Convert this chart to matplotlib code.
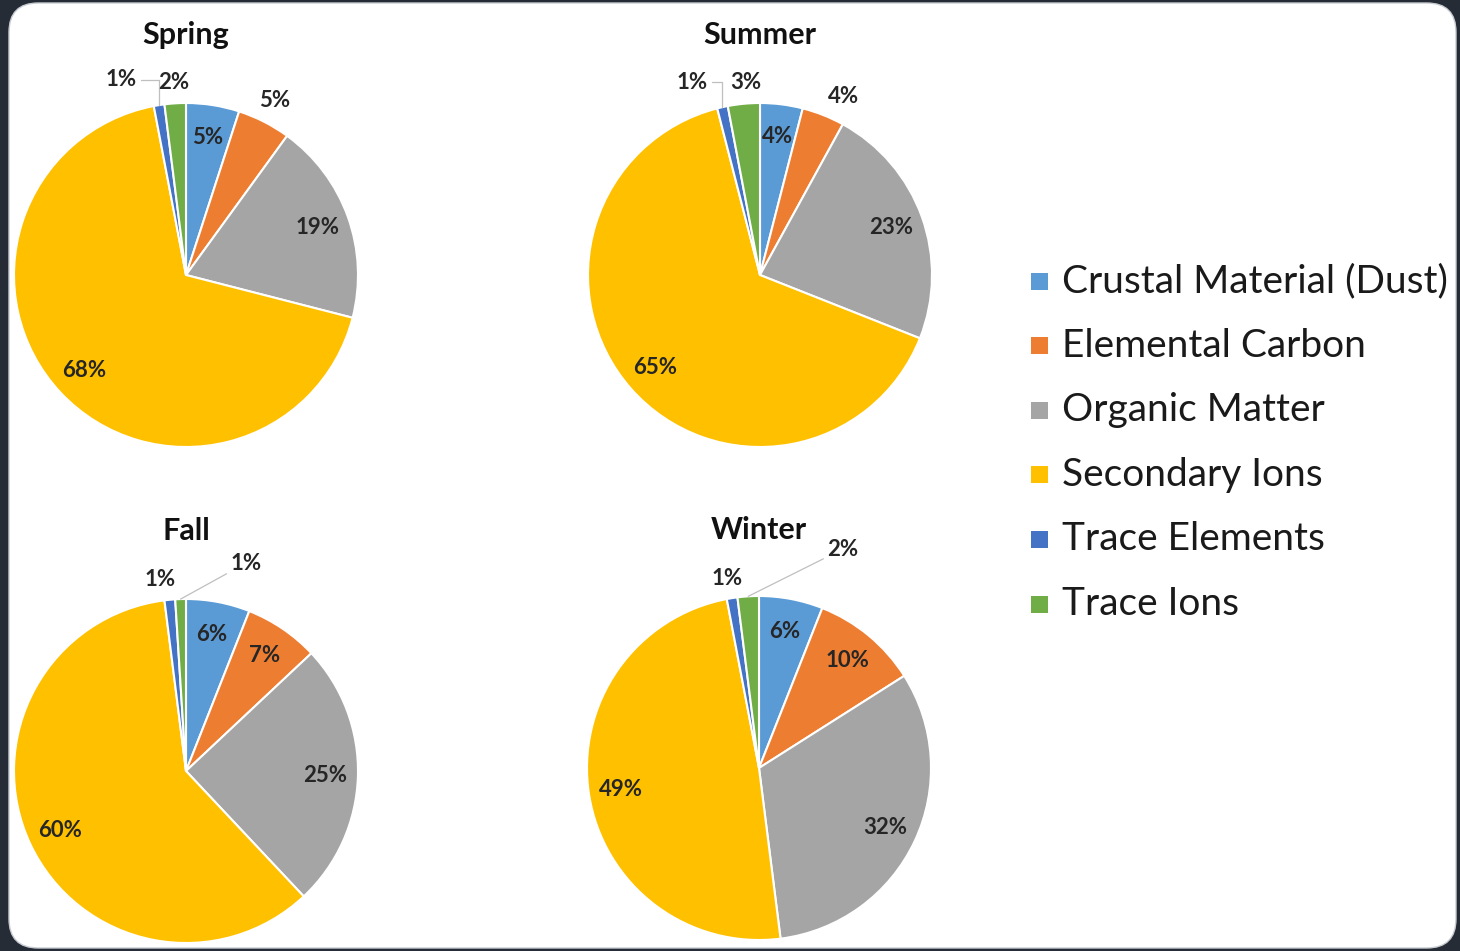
import matplotlib
matplotlib.use("Agg")
import matplotlib.pyplot as plt
import numpy as np
from matplotlib.patches import FancyBboxPatch, Rectangle

plt.rcParams["font.family"] = ["Lato", "DejaVu Sans"]

W, H = 1460, 951

categories = [
    "Crustal Material (Dust)",
    "Elemental Carbon",
    "Organic Matter",
    "Secondary Ions",
    "Trace Elements",
    "Trace Ions",
]
colors = ["#5B9BD5", "#ED7D31", "#A5A5A5", "#FFC000", "#4472C4", "#70AD47"]

seasons = ["Spring", "Summer", "Fall", "Winter"]
spring = [5, 5, 19, 68, 1, 2]
summer = [4, 4, 23, 65, 1, 3]
fall = [6, 7, 25, 60, 1, 1]
winter = [6, 10, 32, 49, 1, 2]
season_values = [spring, summer, fall, winter]

# pie centres in pixels, radius in pixels
centers = [(186, 275), (760, 275), (186, 771), (759, 768)]
radius_px = 172
title_y = [35, 35, 531, 530]

# labels placed outside the pie (offsets in units of the radius); the rest go inside
outside = {
    "Spring": {1: (0.517, 1.012), 4: (-0.378, 1.134), 5: (-0.07, 1.122)},
    "Summer": {1: (0.483, 1.035), 4: (-0.395, 1.122), 5: (-0.081, 1.122)},
    "Fall": {4: (-0.151, 1.116), 5: (0.349, 1.209)},
    "Winter": {4: (-0.186, 1.099), 5: (0.488, 1.273)},
}
# leader lines: slice index -> connection style
leaders = {
    "Spring": {4: "angle,angleA=0,angleB=90,rad=0"},
    "Summer": {4: "angle,angleA=0,angleB=90,rad=0"},
    "Fall": {5: "arc3"},
    "Winter": {5: "arc3"},
}


def fx(x):
    return x / W


def fy(y):
    return 1 - y / H


fig = plt.figure(figsize=(W / 100, H / 100), dpi=100)
fig.patch.set_facecolor("#262c36")

panel = FancyBboxPatch(
    (fx(9), fy(948)),
    fx(1456) - fx(9),
    fy(3) - fy(948),
    boxstyle="round,pad=0,rounding_size=0.02",
    transform=fig.transFigure,
    facecolor="white",
    edgecolor="#c8ccd2",
    linewidth=1.0,
    mutation_aspect=W / H,
    zorder=-10,
)
fig.patches.append(panel)

label_kw = dict(ha="center", va="center", fontsize=16, fontweight="bold",
                color="#262626")

lim = 1.3
for season, values, (cx, cy), ty in zip(seasons, season_values, centers, title_y):
    half = lim * radius_px
    ax = fig.add_axes([fx(cx - half), fy(cy + half), 2 * half / W, 2 * half / H])
    ax.pie(
        values,
        colors=colors,
        startangle=90,
        counterclock=False,
        radius=1,
        wedgeprops=dict(edgecolor="white", linewidth=1.5),
    )
    ax.set_xlim(-lim, lim)
    ax.set_ylim(-lim, lim)
    ax.set_aspect("equal")
    ax.axis("off")

    total = float(sum(values))
    cum = np.cumsum([0] + values[:-1])
    for i, v in enumerate(values):
        mid = 90 - (cum[i] + v / 2) / total * 360
        theta = np.deg2rad(mid)
        label = f"{v}%"
        if i in outside[season]:
            tx, ty_ = outside[season][i]
            if i in leaders[season]:
                ax.annotate(
                    label,
                    xy=(np.cos(theta), np.sin(theta)),
                    xytext=(tx, ty_),
                    arrowprops=dict(
                        arrowstyle="-", color="#bfbfbf", lw=0.9,
                        shrinkA=1, shrinkB=0,
                        connectionstyle=leaders[season][i],
                    ),
                    annotation_clip=False,
                    **label_kw,
                )
            else:
                ax.text(tx, ty_, label, **label_kw)
        else:
            r = 0.81
            ax.text(r * np.cos(theta), r * np.sin(theta), label, **label_kw)

    fig.text(fx(cx), fy(ty), season, ha="center", va="center",
             fontsize=22, fontweight="bold", color="#111111")

# legend
leg_y0, leg_dy = 281, 64.6
for i, (name, c) in enumerate(zip(categories, colors)):
    y = leg_y0 + i * leg_dy
    fig.patches.append(Rectangle(
        (fx(1031), fy(y + 8.5)), 17 / W, 17 / H,
        transform=fig.transFigure, facecolor=c, edgecolor="none",
    ))
    fig.text(fx(1062), fy(y), name, ha="left", va="center",
             fontsize=28, color="#1a1a1a")

fig.savefig("out.png", dpi=100, facecolor=fig.get_facecolor())
